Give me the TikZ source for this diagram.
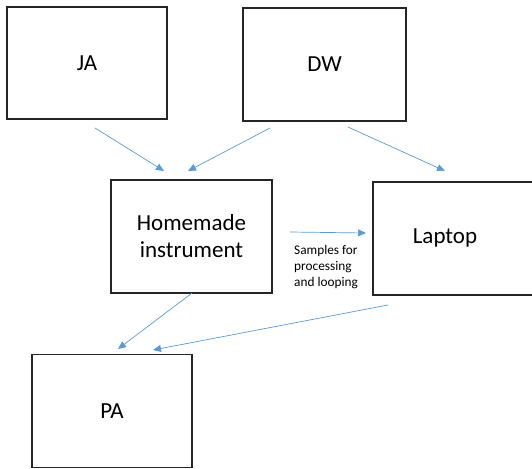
\documentclass[tikz,border=0pt]{standalone}
\usepackage{fontspec}
\setmainfont{Carlito}
\usetikzlibrary{arrows.meta}
\definecolor{flowblue}{RGB}{91,155,213}
\definecolor{boxline}{RGB}{38,38,38}
\tikzset{
  block/.style={draw=boxline, line width=1.3pt, fill=white, inner sep=0pt,
    font=\fontsize{23}{27}\selectfont, align=center},
  flow/.style={draw=flowblue, line width=0.7pt,
    -{Triangle[length=8pt,width=7pt]}},
  note/.style={font=\fontsize{13.3}{16}\selectfont, align=left, inner sep=0pt}
}
\begin{document}
\begin{tikzpicture}[x=1pt,y=-1pt]
  \useasboundingbox (0,0) rectangle (532,468);

  % boxes
  \node[block, minimum width=160pt, minimum height=112pt] (ja) at (87,63) {JA};
  \node[block, minimum width=163pt, minimum height=113pt] (dw) at (324.5,64.5) {DW};
  \node[block, minimum width=161pt, minimum height=113pt] (inst) at (191.5,236.5)
    {Homemade\\instrument};
  \node[block, minimum width=172pt, minimum height=113pt] (laptop) at (459,238.5) {};
  \node[font=\fontsize{23}{27}\selectfont, inner sep=0pt] (laptoptext) at (445,238) {Laptop};
  \node[block, minimum width=160pt, minimum height=113pt] (pa) at (112,411) {PA};

  % free ends of the connectors
  \coordinate (jaout) at (95,128);
  \coordinate (dwoutl) at (270,128);
  \coordinate (dwoutr) at (348,127);
  \coordinate (instin1) at (164,171);
  \coordinate (instin2) at (188,171);
  \coordinate (lapin) at (445,171);
  \coordinate (instout) at (290,232);
  \coordinate (lapside) at (366,233);
  \coordinate (instdown) at (192,293);
  \coordinate (lapdown) at (388,305);
  \coordinate (pain1) at (118,349);
  \coordinate (pain2) at (153,350);

  % connectors
  \draw[flow] (jaout) -- (instin1);
  \draw[flow] (dwoutl) -- (instin2);
  \draw[flow] (dwoutr) -- (lapin);
  \draw[flow] (instout) -- (lapside);
  \draw[flow] (instdown) -- (pain1);
  \draw[flow] (lapdown) -- (pain2);

  \node[note, anchor=north west] (samples) at (294,245)
    {Samples for\\processing\\and looping};
\end{tikzpicture}
\end{document}
